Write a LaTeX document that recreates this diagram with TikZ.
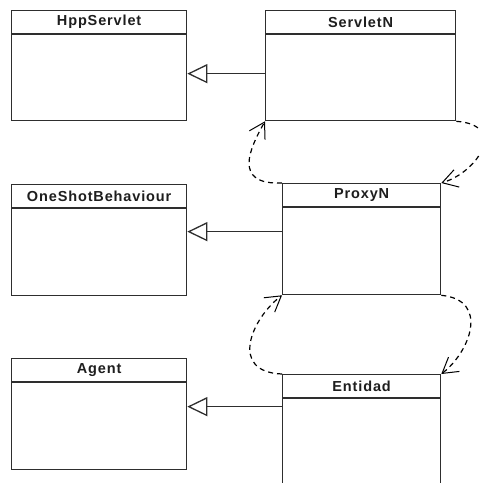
\documentclass[tikz,border=0pt]{standalone}
\usepackage{fontspec}
\setmainfont{Liberation Sans}
\usetikzlibrary{arrows.meta}

\tikzset{
    umlclass/.style = {draw=umlline, line width=1.3pt, rectangle, anchor=north west,
                       inner sep=0pt, fill=white},
    umltitle/.style = {text=umltext, inner sep=0pt,
                       font=\bfseries\fontsize{14.5}{16}\selectfont\addfontfeature{LetterSpace=6}},
    extends/.style  = {draw=umlline, line width=1.3pt,
                       -{Triangle[open, length=20pt, width=19pt, fill=white, line width=1.3pt]}},
    depends/.style  = {draw=black, line width=1.2pt, dash pattern=on 5pt off 4pt,
                       -{Straight Barb[length=15pt, width=18pt, line width=1pt]}}
}
\definecolor{umlline}{HTML}{2E2E2E}
\definecolor{umltext}{HTML}{1E1E1E}

\begin{document}
\begin{tikzpicture}[x=1pt, y=-1pt]
    \useasboundingbox (0,0) rectangle (480,483);
    \clip (0,0) rectangle (480,483);

    % Class boxes
    \node[umlclass, minimum width=175pt, minimum height=110pt] (hpp) at (11,10) {};
    \node[umlclass, minimum width=190pt, minimum height=110pt] (servlet) at (265,10) {};
    \node[umlclass, minimum width=175pt, minimum height=111pt] (oneshot) at (11,184) {};
    \node[umlclass, minimum width=158pt, minimum height=111pt] (proxy) at (282,183) {};
    \node[umlclass, minimum width=175pt, minimum height=111pt] (agent) at (11,358) {};
    \node[umlclass, minimum width=158pt, minimum height=130pt] (entidad) at (282,374) {};

    % Header separators
    \foreach \cls in {hpp, servlet, oneshot, proxy, agent, entidad}
        \draw[umlline, line width=1.3pt] ([yshift=-24pt]\cls.north west) -- ([yshift=-24pt]\cls.north east);

    % Class names
    \node[umltitle] (hppT) at ([yshift=-12pt]hpp.north) {HppServlet};
    \node[umltitle] (servletT) at ([yshift=-12pt]servlet.north) {ServletN};
    \node[umltitle] (oneshotT) at ([yshift=-12pt]oneshot.north) {OneShotBehaviour};
    \node[umltitle] (proxyT) at ([yshift=-12pt]proxy.north) {ProxyN};
    \node[umltitle] (agentT) at ([yshift=-12pt]agent.north) {Agent};
    \node[umltitle] (entidadT) at ([yshift=-12pt]entidad.north) {Entidad};

    % Generalizations
    \draw[extends] ([yshift=-8pt]servlet.west) -- ([yshift=-8pt]hpp.east);
    \draw[extends] ([yshift=7.5pt]proxy.west) -- ([yshift=8.5pt]oneshot.east);
    \draw[extends] ([yshift=33pt]entidad.west) -- ([yshift=7.5pt]agent.east);

    % Dependencies
    \draw[depends] (servlet.south east) .. controls (508,125) and (478,172) .. (proxy.north east);
    \draw[depends] (proxy.north west) .. controls (232,185) and (250,148) .. (servlet.south west);
    \draw[depends] (proxy.south east) .. controls (490,300) and (470,352) .. (entidad.north east);
    \draw[depends] (entidad.north west) .. controls (228,372) and (252,318) .. (proxy.south west);
\end{tikzpicture}
\end{document}
